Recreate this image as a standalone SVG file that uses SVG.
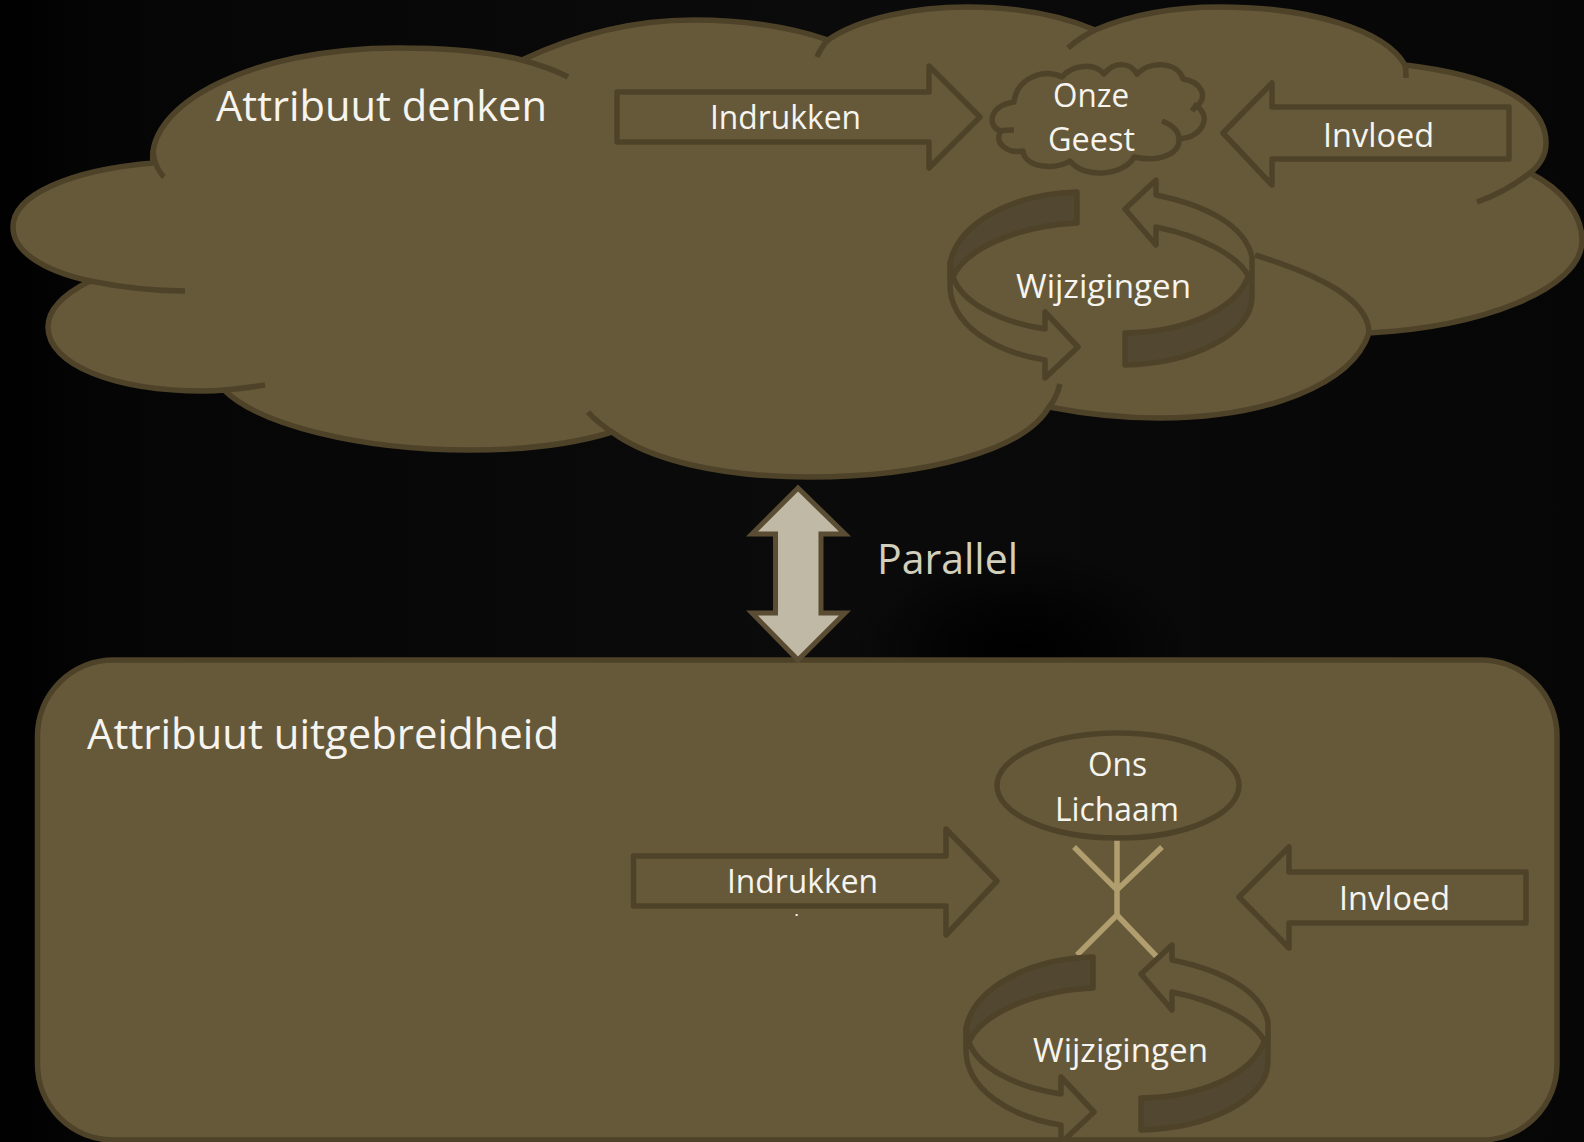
<svg xmlns="http://www.w3.org/2000/svg" xmlns:xlink="http://www.w3.org/1999/xlink" width="1584" height="1142" viewBox="0 0 1584 1142">
<style>
.s{fill:#66593a;stroke:#4e4329;stroke-width:5.5;stroke-linejoin:round}
.t{fill:none;stroke:#4e4329;stroke-width:5.5}
.d{fill:#524730;stroke:#4e4329;stroke-width:5.5;stroke-linejoin:round}
.f{fill:none;stroke:#b19e6f;stroke-width:5.5}
text{font-family:"Open Sans","Noto Sans",sans-serif;fill:#f6f4ee;font-size:33px}
.h{font-size:42px}
</style>
<defs>
<linearGradient id="bg" x1="0" x2="1" y1="0" y2="0">
<stop offset="0" stop-color="#000"/><stop offset=".06" stop-color="#050505"/><stop offset=".5" stop-color="#0b0b0b"/><stop offset="1" stop-color="#060606"/>
</linearGradient>
<radialGradient id="shade"><stop offset="0" stop-color="#000"/><stop offset=".4" stop-color="#000" stop-opacity=".7"/><stop offset="1" stop-color="#000" stop-opacity="0"/></radialGradient>
<g id="cycle">
<path class="d" d="M1077,192 L1077,223 C1015,226 965,250 953,277 L950,263 C958,224 1010,194 1077,192 Z"/>
<path class="s" d="M950,263 L950,285 C950,325 995,352 1045,360 L1045,378 L1078,347 L1045,312 L1045,329 C1000,322 962,303 953,277 Z"/>
<path class="s" d="M1125,209 L1156,245 L1156,227 C1200,236 1238,255 1249,277 L1252,273 L1252,257 C1245,225 1205,205 1156,195 L1156,180 Z"/>
<path class="d" d="M1125,333 L1125,365 C1190,364 1252,335 1252,297 L1252,273 L1248,277 C1235,310 1185,332 1125,333 Z"/>
</g>
</defs>
<rect id="background" width="1584" height="1142" fill="url(#bg)"/>
<ellipse cx="1020" cy="650" rx="170" ry="100" fill="url(#shade)"/>
<g id="node-cloud-denken">
<path class="s" d="M153,163 C146,105 250,48 398,48 C450,48 490,52 522,60 C575,35 630,20 693,20 C745,20 790,27 828,40 C860,18 915,7 967,7 C1015,7 1060,15 1095,30 C1130,15 1170,7 1220,7 C1310,7 1385,30 1405,65 C1490,75 1546,100 1546,143 C1546,155 1540,165 1530,173 C1563,190 1582,215 1582,240 C1582,290 1480,327 1369,333 C1352,385 1265,418 1160,418 C1120,418 1085,414 1049,407 C1025,450 925,477 810,477 C720,477 650,460 612,432 C570,445 520,450 470,450 C360,450 260,425 224,390 C215,391 212,391 204,391 C115,391 48,365 48,327 C48,310 64,294 90,281 C40,270 13,250 13,227 C13,195 70,170 153,163 Z"/>
<path class="t" d="M522,60 C540,65 555,70 568,77 M153,150 C153,158 157,170 164,177 M90,281 C120,287 150,291 185,291 M224,390 C240,389 252,387 265,385 M612,432 C603,426 594,419 588,412 M828,40 C823,45 820,50 817,57 M1095,30 C1085,35 1076,41 1068,48 M1405,65 C1406,70 1406,74 1406,78 M1530,173 C1516,184 1497,195 1477,202 M1255,255 C1320,275 1369,300 1369,333 M1049,407 C1055,400 1058,392 1060,384"/>
<text class="h" x="216" y="121" textLength="331" lengthAdjust="spacingAndGlyphs">Attribuut denken</text>
</g>
<g id="node-rect-uitgebreidheid">
<rect class="s" x="37.5" y="660" width="1519.5" height="480" rx="76" ry="76"/>
<text class="h" x="87" y="749" textLength="472" lengthAdjust="spacingAndGlyphs">Attribuut uitgebreidheid</text>
</g>
<g id="node-figure">
<path class="f" d="M1117,839 L1117,915 M1074,847 L1117,890 L1162,847 M1077,955 L1117,915 L1157,957"/>
</g>
<g id="connectors">
<path fill="#bfb9a5" stroke="#5a4d33" stroke-width="5" stroke-linejoin="miter" d="M798,488 L845,534 L821,534 L821,613 L845,613 L798,660 L752,613 L775.5,613 L775.5,534 L752,534 Z"/>
<path class="s" d="M617,92 L929,92 L929,66 L980,117 L929,168 L929,142 L617,142 Z"/>
<path class="s" d="M1223,133 L1272,83 L1272,107 L1509,107 L1509,159 L1272,159 L1272,185 Z"/>
<use xlink:href="#cycle" href="#cycle"/>
<path class="s" d="M633.5,856 L946,856 L946,829 L997,881 L946,935 L946,906 L633.5,906 Z"/>
<path class="s" d="M1239,897 L1289,847 L1289,872 L1526,872 L1526,923 L1289,923 L1289,948 Z"/>
<use xlink:href="#cycle" href="#cycle" transform="translate(16,765)"/>
</g>
<g id="node-onze-geest">
<path class="s" d="M1014,102 C1017,78 1043,68 1062,77 C1072,65 1094,62 1104,74 C1115,61 1130,62 1137,74 C1150,60 1178,62 1183,79 C1202,82 1208,97 1197,106 C1212,118 1202,137 1179,139 C1180,153 1160,163 1134,157 C1125,175 1085,180 1070,161 C1055,170 1025,168 1023,151 C1007,154 993,142 1001,131 C988,128 987,106 1014,102 Z"/>
<path class="t" d="M1197,103 C1196,106 1194,108 1192,111 M1162,121 C1172,125 1179,131 1179,139 M1001,131 C1005,130 1009,130 1014,130"/>
<text x="1053" y="107" textLength="76" lengthAdjust="spacingAndGlyphs">Onze</text>
<text x="1048" y="151" textLength="87" lengthAdjust="spacingAndGlyphs">Geest</text>
</g>
<g id="node-ons-lichaam">
<ellipse class="s" cx="1118" cy="785.5" rx="121" ry="52.5"/>
<text x="1088" y="776" textLength="59" lengthAdjust="spacingAndGlyphs">Ons</text>
<text x="1055" y="821" textLength="124" lengthAdjust="spacingAndGlyphs">Lichaam</text>
</g>
<g id="labels">
<text x="710" y="129" textLength="151" lengthAdjust="spacingAndGlyphs">Indrukken</text>
<text x="1323" y="147" textLength="111" lengthAdjust="spacingAndGlyphs">Invloed</text>
<text x="1016" y="298" textLength="175" lengthAdjust="spacingAndGlyphs">Wijzigingen</text>
<text x="727" y="893" textLength="151" lengthAdjust="spacingAndGlyphs">Indrukken</text>
<text x="795" y="916" style="font-size:11px;font-weight:800">.</text>
<text x="1339" y="910" textLength="111" lengthAdjust="spacingAndGlyphs">Invloed</text>
<text x="1033" y="1062" textLength="175" lengthAdjust="spacingAndGlyphs">Wijzigingen</text>
<text class="h" x="877" y="574" textLength="141" lengthAdjust="spacingAndGlyphs" style="fill:#d3cfbd">Parallel</text>
</g>
</svg>
